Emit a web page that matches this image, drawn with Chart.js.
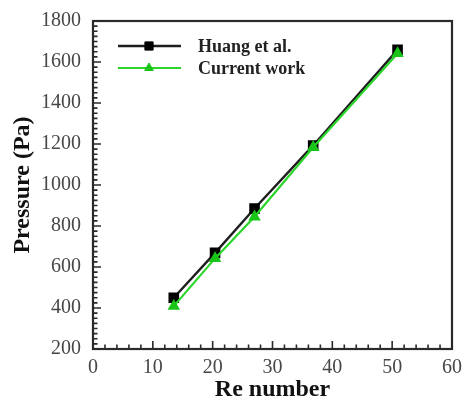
<!DOCTYPE html>
<html>
<head>
<meta charset="utf-8">
<script src="https://cdn.jsdelivr.net/npm/chart.js@4/dist/chart.umd.min.js"></script>
<style>
  html, body { margin: 0; padding: 0; background: #fff; }
  #wrap { width: 464px; height: 399px; position: relative; }
</style>
</head>
<body>
<div id="wrap"><canvas id="c"></canvas></div>
<script>
// Reynolds numbers of the cases
const reNumbers = [13.5, 20.4, 27.0, 36.8, 50.9];
// Pressure drop (Pa)
const huangPressure = [450, 669, 885, 1193, 1659];
const currentPressure = [409, 642, 845, 1184, 1642];
const seriesLabels = ['Huang et al.', 'Current work'];
const xTicks = [0, 10, 20, 30, 40, 50, 60];
const yTicks = [200, 400, 600, 800, 1000, 1200, 1400, 1600, 1800];

const SERIF = "'Liberation Serif', 'Times New Roman', serif";
const AXIS = '#2a2a2a';

const toPoints = (xs, ys) => xs.map((x, i) => ({ x: x, y: ys[i] }));

// Frame, inward major/minor ticks and the in-plot legend
const framePlugin = {
  id: 'frame',
  afterDraw(chart) {
    const { ctx, chartArea: a, scales } = chart;
    const xs = scales.x, ys = scales.y;
    ctx.save();
    ctx.strokeStyle = AXIS;
    ctx.lineWidth = 2.2;
    ctx.strokeRect(a.left, a.top, a.right - a.left, a.bottom - a.top);

    ctx.lineWidth = 1.6;
    ctx.beginPath();
    for (let v = xs.min; v <= xs.max + 1e-9; v += 2) {
      const px = xs.getPixelForValue(v);
      const len = (Math.abs(v % 10) < 1e-9) ? 8 : 4.5;
      ctx.moveTo(px, a.bottom);
      ctx.lineTo(px, a.bottom - len);
    }
    for (let v = ys.min; v <= ys.max + 1e-9; v += 25) {
      const py = ys.getPixelForValue(v);
      const len = (Math.abs(v % 200) < 1e-9) ? 8 : 4.5;
      ctx.moveTo(a.left, py);
      ctx.lineTo(a.left + len, py);
    }
    ctx.stroke();

    // legend: line with centred marker, then label
    const x0 = 118, x1 = 181, xm = 149, tx = 198;
    const rows = [46, 68];
    chart.data.datasets.forEach((ds, i) => {
      const y = rows[i];
      ctx.strokeStyle = ds.borderColor;
      ctx.lineWidth = ds.borderWidth;
      ctx.beginPath();
      ctx.moveTo(x0, y);
      ctx.lineTo(x1, y);
      ctx.stroke();
      ctx.fillStyle = ds.pointBackgroundColor;
      ctx.strokeStyle = ds.pointBorderColor;
      ctx.lineWidth = 1;
      Chart.helpers.drawPoint(ctx, {
        pointStyle: ds.pointStyle, radius: ds.pointRadius,
        rotation: 0, borderWidth: 1
      }, xm, y);
      ctx.fillStyle = '#222';
      ctx.font = 'bold 18px ' + SERIF;
      ctx.textAlign = 'left';
      ctx.textBaseline = 'middle';
      ctx.fillText(ds.label, tx, y + 1);
    });
    ctx.restore();
  }
};

new Chart(document.getElementById('c'), {
  type: 'scatter',
  data: {
    datasets: [
      {
        label: seriesLabels[0],
        data: toPoints(reNumbers, huangPressure),
        showLine: true,
        borderColor: '#1e1e1e',
        borderWidth: 2.4,
        pointStyle: 'rect',
        pointRadius: 5.8,
        pointBackgroundColor: '#000',
        pointBorderColor: '#000',
        order: 1
      },
      {
        label: seriesLabels[1],
        data: toPoints(reNumbers, currentPressure),
        showLine: true,
        borderColor: '#2bd62b',
        borderWidth: 2.2,
        pointStyle: 'triangle',
        pointRadius: 5,
        pointBackgroundColor: '#19c519',
        pointBorderColor: '#19c519',
        order: 0
      }
    ]
  },
  options: {
    responsive: true,
    maintainAspectRatio: false,
    animation: false,
    devicePixelRatio: 1,
    layout: { padding: { left: 0, right: 12, top: 21, bottom: 0 } },
    plugins: {
      legend: { display: false },
      tooltip: { enabled: false }
    },
    scales: {
      x: {
        type: 'linear',
        min: 0, max: 60,
        afterBuildTicks: s => { s.ticks = xTicks.map(v => ({ value: v })); },
        afterFit: s => { s.height = 50; s.paddingLeft = 0; s.paddingRight = 0; },
        grid: { display: true, drawOnChartArea: false, drawTicks: false },
        border: { display: false },
        ticks: {
          color: '#474747',
          padding: 7,
          font: { family: SERIF, size: 20 },
          maxRotation: 0,
          callback: v => String(v)
        },
        title: {
          display: true,
          text: 'Re number',
          color: '#111',
          padding: { top: 0, bottom: -5 },
          font: { family: SERIF, size: 24, weight: 'bold' }
        }
      },
      y: {
        type: 'linear',
        min: 200, max: 1800,
        afterBuildTicks: s => { s.ticks = yTicks.map(v => ({ value: v })); },
        afterFit: s => { s.width = 93; s.paddingTop = 0; s.paddingBottom = 0; },
        grid: { display: true, drawOnChartArea: false, drawTicks: false },
        border: { display: false },
        ticks: {
          color: '#474747',
          padding: 12,
          font: { family: SERIF, size: 20 },
          callback: v => String(v)
        },
        title: {
          display: true,
          text: 'Pressure (Pa)',
          color: '#111',
          padding: { top: 8, bottom: 0 },
          font: { family: SERIF, size: 24, weight: 'bold' }
        }
      }
    }
  },
  plugins: [framePlugin]
});
</script>
</body>
</html>
